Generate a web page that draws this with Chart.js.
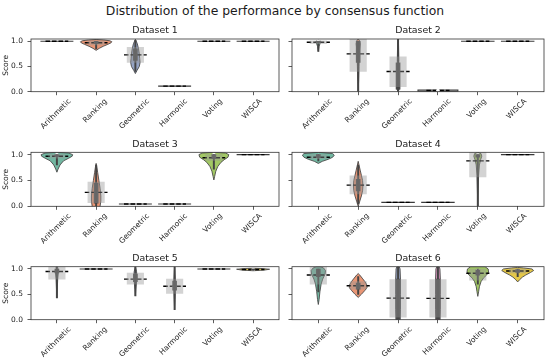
<!DOCTYPE html>
<html>
<head>
<meta charset="utf-8">
<script src="https://cdn.jsdelivr.net/npm/chart.js@4"></script>
<style>
    body { margin: 0; background: #fff; overflow: hidden; }
    #figure { position: relative; width: 550px; height: 362px; }
    #figure canvas { position: absolute; }
    #suptitle {
        position: absolute; left: 0; top: 3px; width: 550px; line-height: 15px;
        text-align: center; font: 12.4px "DejaVu Sans", sans-serif; color: #1a1a1a;
    }
</style>
</head>
<body>
<div id="figure">
    <div id="suptitle">Distribution of the performance by consensus function</div>
</div>
<script>
const categories = ['Arithmetic', 'Ranking', 'Geometric', 'Harmonic', 'Voting', 'WISCA'];
const panelTitles = ['Dataset 1', 'Dataset 2', 'Dataset 3', 'Dataset 4', 'Dataset 5', 'Dataset 6'];
const yTicks = [0.0, 0.5, 1.0];

// dashed line (mean score)
const meanScores = [
    [1.00, 0.97, 0.73, 0.11, 1.00, 1.00],
    [0.98, 0.75, 0.40, 0.025, 1.00, 1.00],
    [0.97, 0.27, 0.045, 0.045, 0.94, 1.00],
    [0.95, 0.41, 0.075, 0.075, 0.88, 1.00],
    [0.95, 1.00, 0.80, 0.66, 1.00, 0.99],
    [0.88, 0.67, 0.425, 0.42, 0.915, 0.96]
];

// grey band around the mean
const bandLow = [
    [null, 0.93, 0.58, null, null, null],
    [0.95, 0.40, 0.10, null, null, null],
    [0.93, 0.07, null, null, 0.89, null],
    [0.92, 0.24, null, null, 0.57, null],
    [0.80, null, 0.70, 0.52, null, null],
    [0.70, 0.60, 0.05, 0.05, 0.78, 0.92]
];
const bandHigh = [
    [null, 1.01, 0.88, null, null, null],
    [1.01, 1.045, 0.69, null, null, null],
    [1.01, 0.47, null, null, 1.00, null],
    [1.00, 0.59, null, null, 1.045, null],
    [1.045, null, 0.92, 0.80, null, null],
    [1.045, 0.75, 0.79, 0.79, 1.00, 1.00]
];

// inner box of the violins
const whiskerLow = [
    [null, 0.85, 0.40, null, null, null],
    [0.80, 0.00, 0.00, null, null, null],
    [0.80, 0.00, null, null, 0.72, null],
    [0.88, 0.05, null, null, 0.00, null],
    [0.43, null, 0.47, 0.20, null, 0.97],
    [0.55, 0.50, 0.00, 0.00, 0.70, 0.85]
];
const whiskerHigh = [
    [null, 1.00, 1.02, null, null, null],
    [1.00, 1.00, 1.045, null, null, null],
    [1.00, 0.80, null, null, 1.00, null],
    [1.00, 0.80, null, null, 1.00, null],
    [1.045, null, 1.045, 1.045, null, 1.00],
    [1.00, 0.85, 1.045, 1.045, 1.00, 1.00]
];
const quartileLow = [
    [null, 0.95, 0.62, null, null, null],
    [0.97, 0.58, 0.05, null, null, null],
    [0.96, 0.06, null, null, 0.92, null],
    [0.94, 0.30, null, null, 0.95, null],
    [0.92, null, 0.75, 0.58, null, 0.98],
    [0.85, 0.60, 0.00, 0.00, 0.88, 0.93]
];
const quartileHigh = [
    [null, 1.00, 0.85, null, null, null],
    [1.00, 1.00, 0.57, null, null, null],
    [1.00, 0.45, null, null, 1.00, null],
    [1.00, 0.52, null, null, 1.00, null],
    [1.00, null, 0.90, 0.76, null, 1.00],
    [1.00, 0.72, 0.80, 0.80, 0.98, 0.99]
];
const medianScores = [
    [null, 0.97, 0.78, null, null, null],
    [1.00, 0.88, 0.57, 0.025, null, null],
    [1.00, 0.20, null, null, 1.00, null],
    [0.98, 0.40, null, null, 1.00, null],
    [1.00, null, 0.82, 0.66, null, 0.99],
    [0.92, 0.65, 0.44, 0.43, 0.97, 0.97]
];

// violin outlines: [score, half width in category units]
const violinShapes = [
    [
        [[1.0, 0.42]],
        [[0.82, 0], [0.86, 0.08], [0.90, 0.18], [0.94, 0.30], [0.97, 0.38], [0.99, 0.40], [1.01, 0.35], [1.025, 0.2], [1.035, 0]],
        [[0.36, 0], [0.42, 0.04], [0.50, 0.10], [0.58, 0.12], [0.66, 0.11], [0.75, 0.10], [0.85, 0.08], [0.95, 0.05], [1.04, 0]],
        [[0.11, 0.42]],
        [[1.0, 0.42]],
        [[1.0, 0.42]]
    ],
    [
        [[0.80, 0], [0.90, 0.02], [0.97, 0.05], [1.00, 0.06], [1.02, 0]],
        [[0.0, 0], [0.2, 0.01], [0.5, 0.02], [0.8, 0.03], [0.95, 0.05], [1.02, 0.03], [1.045, 0]],
        [[0.0, 0], [0.05, 0.03], [0.3, 0.03], [0.6, 0.02], [1.0, 0.01], [1.045, 0]],
        [[0.01, 0.5], [0.035, 0.5]],
        [[1.0, 0.42]],
        [[1.0, 0.42]]
    ],
    [
        [[0.66, 0], [0.72, 0.03], [0.80, 0.08], [0.88, 0.17], [0.93, 0.30], [0.97, 0.39], [1.00, 0.40], [1.03, 0.30], [1.045, 0]],
        [[-0.05, 0.06], [0.0, 0.10], [0.1, 0.12], [0.2, 0.12], [0.35, 0.10], [0.5, 0.07], [0.65, 0.04], [0.75, 0.02], [0.83, 0]],
        [[0.045, 0.42]],
        [[0.045, 0.42]],
        [[0.51, 0], [0.58, 0.02], [0.68, 0.05], [0.77, 0.10], [0.85, 0.18], [0.90, 0.26], [0.95, 0.36], [1.00, 0.38], [1.03, 0.30], [1.045, 0]],
        [[1.0, 0.42]]
    ],
    [
        [[0.83, 0], [0.87, 0.10], [0.91, 0.25], [0.95, 0.36], [0.99, 0.40], [1.02, 0.36], [1.045, 0]],
        [[0.0, 0], [0.1, 0.04], [0.2, 0.08], [0.3, 0.11], [0.4, 0.12], [0.5, 0.11], [0.6, 0.08], [0.7, 0.05], [0.8, 0.02], [0.87, 0]],
        [[0.075, 0.42]],
        [[0.075, 0.42]],
        [[0.0, 0], [0.3, 0.01], [0.6, 0.02], [0.8, 0.04], [0.9, 0.07], [0.97, 0.10], [1.02, 0.08], [1.045, 0]],
        [[1.0, 0.42]]
    ],
    [
        [[0.43, 0], [0.6, 0.01], [0.8, 0.02], [0.95, 0.04], [1.02, 0.03], [1.045, 0]],
        [[1.0, 0.42]],
        [[0.47, 0], [0.6, 0.01], [0.75, 0.03], [0.85, 0.04], [0.95, 0.03], [1.045, 0]],
        [[0.2, 0], [0.4, 0.01], [0.6, 0.02], [0.75, 0.02], [0.9, 0.01], [1.045, 0]],
        [[1.0, 0.42]],
        [[0.965, 0], [0.98, 0.30], [0.995, 0.42], [1.01, 0.20], [1.015, 0]]
    ],
    [
        [[0.30, 0], [0.40, 0.02], [0.55, 0.04], [0.70, 0.07], [0.80, 0.11], [0.90, 0.17], [0.97, 0.18], [1.02, 0.13], [1.045, 0.05]],
        [[0.44, 0], [0.50, 0.08], [0.57, 0.16], [0.63, 0.22], [0.68, 0.22], [0.75, 0.17], [0.82, 0.10], [0.88, 0.04], [0.91, 0]],
        [[-0.02, 0.05], [0.2, 0.06], [0.5, 0.06], [0.8, 0.06], [1.0, 0.05], [1.045, 0.03]],
        [[-0.02, 0.05], [0.2, 0.06], [0.5, 0.06], [0.8, 0.06], [1.0, 0.05], [1.045, 0.03]],
        [[0.46, 0], [0.55, 0.02], [0.65, 0.04], [0.75, 0.08], [0.82, 0.14], [0.88, 0.22], [0.94, 0.27], [1.00, 0.26], [1.045, 0.18]],
        [[0.745, 0], [0.79, 0.05], [0.84, 0.12], [0.88, 0.20], [0.93, 0.32], [0.97, 0.40], [1.00, 0.36], [1.02, 0.15], [1.03, 0]]
    ]
];

// seaborn Set2, desaturated
const violinColors = ['#71b7a1', '#e99675', '#95a3c3', '#dc96c1', '#a2c864', '#e5c849'];

const FONT = '"DejaVu Sans", sans-serif';
const TEXT = '#1a1a1a';
const SPINE = '#333333';
const TICK_SIZE = 7.5;
Chart.defaults.font.family = FONT;

const rowPlotTop = [39, 152.3, 266.7];
const rowPlotBottom = [91.7, 206.3, 319.7];
const colCanvasLeft = [0, 283];
const colCanvasWidth = [283, 267];
const colAxisWidth = [31, 9];
const colPadRight = [3, 6];
const TITLE_SIZE = 9.4;
const TITLE_PAD = 2.5;

function pointsOf(lows, highs) {
    let out = [];
    lows.forEach((lo, i) => {
        if (lo !== null && highs[i] !== null) out.push({ x: i, y: [lo, highs[i]] });
    });
    return out;
}

const violinPlugin = {
    id: 'violins',
    beforeDatasetsDraw(chart, args, opts) {
        const { ctx, chartArea, scales: { x, y } } = chart;
        const s = x.getPixelForValue(1) - x.getPixelForValue(0);
        ctx.save();
        ctx.beginPath();
        ctx.rect(chartArea.left, chartArea.top, chartArea.right - chartArea.left, chartArea.bottom - chartArea.top);
        ctx.clip();
        violinShapes[opts.panel].forEach((shape, i) => {
            const cx = x.getPixelForValue(i);
            ctx.beginPath();
            shape.forEach(([v, w]) => ctx.lineTo(cx + w * s, y.getPixelForValue(v)));
            shape.slice().reverse().forEach(([v, w]) => ctx.lineTo(cx - w * s, y.getPixelForValue(v)));
            ctx.closePath();
            if (shape.length > 2) {
                ctx.fillStyle = violinColors[i];
                ctx.fill();
                ctx.strokeStyle = '#4a4a4a';
                ctx.lineWidth = 0.9;
            } else {
                ctx.strokeStyle = '#3a3a3a';
                ctx.lineWidth = 1.1;
            }
            ctx.stroke();
        });
        ctx.restore();
    },
    beforeDatasetDraw(chart, args, opts) {
        // mean lines go under the median dots
        if (args.index !== 3) return;
        const { ctx, scales: { x, y } } = chart;
        const s = x.getPixelForValue(1) - x.getPixelForValue(0);
        ctx.save();
        ctx.strokeStyle = '#000';
        ctx.lineWidth = 1.4;
        ctx.setLineDash([4.5, 2]);
        meanScores[opts.panel].forEach((v, i) => {
            const cx = x.getPixelForValue(i);
            const py = y.getPixelForValue(v);
            ctx.beginPath();
            ctx.moveTo(cx - 0.29 * s, py);
            ctx.lineTo(cx + 0.29 * s, py);
            ctx.stroke();
        });
        ctx.restore();
    },
    afterDraw(chart) {
        const { ctx, chartArea, scales: { x } } = chart;
        ctx.save();
        // axes frame
        ctx.strokeStyle = SPINE;
        ctx.lineWidth = 0.8;
        ctx.strokeRect(chartArea.left, chartArea.top, chartArea.right - chartArea.left, chartArea.bottom - chartArea.top);
        // rotated category labels, centred under the tick like matplotlib
        ctx.font = TICK_SIZE + 'px ' + FONT;
        ctx.fillStyle = TEXT;
        ctx.textAlign = 'center';
        ctx.textBaseline = 'middle';
        categories.forEach((label, i) => {
            const w = ctx.measureText(label).width;
            const half = (w + TICK_SIZE * 1.16) * Math.SQRT1_2 / 2;
            ctx.save();
            ctx.translate(x.getPixelForValue(i) - 1, chartArea.bottom + 5.5 + half);
            ctx.rotate(-Math.PI / 4);
            ctx.fillText(label, 0, 0);
            ctx.restore();
        });
        ctx.restore();
    }
};

function buildPanel(p) {
    const row = Math.floor(p / 2);
    const col = p % 2;
    const plotTop = rowPlotTop[row];
    const plotBottom = rowPlotBottom[row];
    const titleH = TITLE_SIZE * 1.2 + TITLE_PAD;
    const canvasTop = Math.floor(plotTop - titleH) - 1;
    const canvasBottom = Math.min(362, Math.ceil(plotBottom + 42));
    const xAxisH = canvasBottom - plotBottom;

    let canvas = document.createElement('canvas');
    canvas.width = colCanvasWidth[col];
    canvas.height = canvasBottom - canvasTop;
    canvas.style.left = colCanvasLeft[col] + 'px';
    canvas.style.top = canvasTop + 'px';
    document.getElementById('figure').append(canvas);

    const medians = [];
    medianScores[p].forEach((v, i) => { if (v !== null) medians.push({ x: i, y: v }); });

    const config = {
        type: 'bar',
        data: {
            datasets: [
                {
                    label: 'band',
                    data: pointsOf(bandLow[p], bandHigh[p]),
                    backgroundColor: 'rgba(150,150,150,0.42)',
                    barThickness: 16.5,
                    grouped: false
                },
                {
                    label: 'whisker',
                    data: pointsOf(whiskerLow[p], whiskerHigh[p]),
                    backgroundColor: '#444444',
                    barThickness: 1.3,
                    grouped: false
                },
                {
                    label: 'quartiles',
                    data: pointsOf(quartileLow[p], quartileHigh[p]),
                    backgroundColor: '#4a4a4a',
                    barThickness: 4,
                    grouped: false
                },
                {
                    type: 'scatter',
                    label: 'median',
                    data: medians,
                    pointRadius: 1.8,
                    backgroundColor: '#ffffff',
                    borderWidth: 0
                }
            ]
        },
        options: {
            responsive: false,
            animation: false,
            events: [],
            layout: {
                padding: { top: plotTop - titleH - canvasTop, right: colPadRight[col], left: 0, bottom: 0 }
            },
            plugins: {
                legend: { display: false },
                tooltip: { enabled: false },
                title: {
                    display: true,
                    text: panelTitles[p],
                    fullSize: false,
                    color: TEXT,
                    font: { size: TITLE_SIZE, weight: 'normal' },
                    padding: { top: 0, bottom: TITLE_PAD }
                },
                violins: { panel: p }
            },
            scales: {
                x: {
                    type: 'linear',
                    min: -0.66,
                    max: 5.66,
                    offset: false,
                    grid: { offset: false, drawOnChartArea: false, color: SPINE, tickLength: 3.5, tickWidth: 0.8 },
                    border: { display: false },
                    ticks: { display: false },
                    afterBuildTicks: (scale) => { scale.ticks = categories.map((c, i) => ({ value: i })); },
                    afterFit: (scale) => { scale.height = xAxisH; scale.paddingLeft = 0; scale.paddingRight = 0; }
                },
                y: {
                    min: 0,
                    max: 1.045,
                    grid: { drawOnChartArea: false, color: SPINE, tickLength: 3.5, tickWidth: 0.8 },
                    border: { display: false },
                    ticks: {
                        display: col === 0,
                        color: TEXT,
                        font: { size: TICK_SIZE },
                        padding: 4.5,
                        callback: (v) => v.toFixed(1)
                    },
                    title: {
                        display: col === 0,
                        text: 'Score',
                        color: TEXT,
                        font: { size: TICK_SIZE },
                        padding: { top: 1.4, bottom: 0 }
                    },
                    afterBuildTicks: (scale) => { scale.ticks = yTicks.map(v => ({ value: v })); },
                    afterFit: (scale) => { scale.width = colAxisWidth[col]; }
                }
            }
        },
        plugins: [violinPlugin]
    };
    new Chart(canvas, config);
}

panelTitles.forEach((t, p) => buildPanel(p));
</script>
</body>
</html>
